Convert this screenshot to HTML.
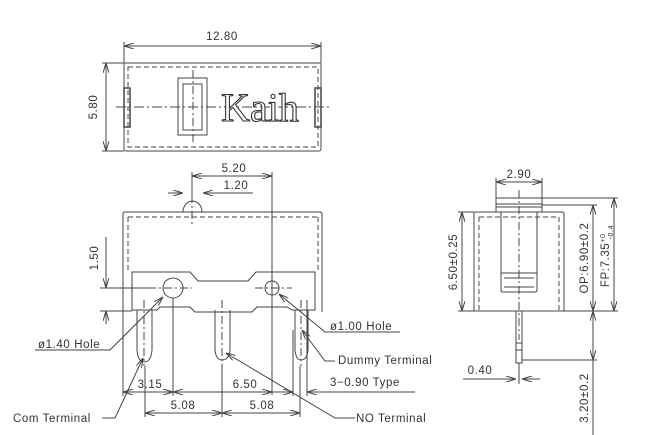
<!DOCTYPE html>
<html><head><style>
html,body{margin:0;padding:0;background:#fff;}
svg{display:block;}
text{font-family:"Liberation Sans",sans-serif;font-size:11.5px;fill:#333;letter-spacing:0.6px;}
</style></head><body>
<svg width="653" height="435" viewBox="0 0 653 435" xmlns="http://www.w3.org/2000/svg">
<defs>
<marker id="a" viewBox="0 0 10 6" refX="10" refY="3" markerWidth="10" markerHeight="6" orient="auto-start-reverse" markerUnits="userSpaceOnUse"><path d="M0,0 L10,3 L0,6" fill="none" stroke="#444" stroke-width="1"/></marker>
</defs>
<g stroke="#444" stroke-width="1" fill="none">
<!-- TOP VIEW -->
<rect x="124" y="63" width="197" height="88" rx="2"/>
<rect x="128" y="67" width="190" height="80" stroke-dasharray="5,3"/>
<line x1="116" y1="107" x2="330" y2="107" stroke-dasharray="10,3,2,3"/>
<rect x="178" y="78" width="29" height="57"/>
<rect x="183" y="84" width="19" height="46"/>
<line x1="193" y1="70" x2="193" y2="143" stroke-dasharray="8,3,2,3"/>
<rect x="124" y="88" width="6" height="39" stroke-width="1.5"/>
<rect x="315" y="88" width="6" height="39" stroke-width="1.5"/>
<!-- 12.80 -->
<line x1="124" y1="42" x2="124" y2="63"/><line x1="321" y1="42" x2="321" y2="63"/>
<line x1="124" y1="46" x2="321" y2="46" marker-start="url(#a)" marker-end="url(#a)"/>
<!-- 5.80 -->
<line x1="102" y1="63" x2="124" y2="63"/><line x1="102" y1="151" x2="124" y2="151"/>
<line x1="106" y1="63" x2="106" y2="151" marker-start="url(#a)" marker-end="url(#a)"/>

<!-- FRONT VIEW -->
<path d="M123,312 L123,214 Q123,212 125,212 L320,212 Q322,212 322,214 L322,312"/>
<line x1="128" y1="217" x2="318" y2="217" stroke-dasharray="5,3"/>
<line x1="128" y1="217" x2="128" y2="272" stroke-dasharray="5,3"/>
<line x1="318" y1="217" x2="318" y2="272" stroke-dasharray="5,3"/>
<path d="M183,212 A9.5,11 0 0 1 202,212"/>
<line x1="192" y1="195" x2="192" y2="226" stroke-dasharray="8,3,2,3"/>
<path d="M132,310 L132,272 L190,272 L198,281 L248,281 L256,272 L315,272 L315,310 L292,310 L287,307 L257,307 L252,312 L195,312 L190,307 L160,307 L157,310 Z" fill="#fff"/>
<circle cx="173" cy="288" r="10"/>
<circle cx="272" cy="288" r="7"/>
<line x1="148" y1="288" x2="192" y2="288" stroke-dasharray="8,3,2,3"/>
<line x1="255" y1="288" x2="292" y2="288" stroke-dasharray="8,3,2,3"/>
<!-- terminals -->
<path d="M137,310 L137,350 Q138,362 144,362 Q151,362 152,350 L152,310"/>
<path d="M215,310 L215,350 Q216,360 222,360 Q229,360 230,350 L230,310"/>
<path d="M295,310 L295,350 Q296,360 301,360 Q307,360 308,350 L308,310"/>
<line x1="144" y1="300" x2="144" y2="366" stroke-dasharray="8,3,2,3"/>
<line x1="222" y1="300" x2="222" y2="366" stroke-dasharray="8,3,2,3"/>
<line x1="301" y1="300" x2="301" y2="366" stroke-dasharray="8,3,2,3"/>
<!-- 5.20 / 1.20 -->
<line x1="192" y1="172" x2="192" y2="196"/>
<line x1="272" y1="172" x2="272" y2="395"/>
<line x1="192" y1="176" x2="272" y2="176" marker-start="url(#a)" marker-end="url(#a)"/>
<line x1="168" y1="193" x2="183" y2="193" marker-end="url(#a)"/>
<line x1="253" y1="193" x2="203" y2="193" marker-end="url(#a)"/>
<!-- 1.50 -->
<line x1="100" y1="288" x2="150" y2="288"/><line x1="100" y1="311" x2="132" y2="311"/>
<line x1="106" y1="237" x2="106" y2="288" marker-end="url(#a)"/>
<line x1="106" y1="324" x2="106" y2="311" marker-end="url(#a)"/>
<!-- extension lines -->
<line x1="123" y1="312" x2="123" y2="396"/>
<line x1="173" y1="298" x2="173" y2="396"/>
<line x1="307" y1="300" x2="307" y2="396"/>
<line x1="293" y1="330" x2="293" y2="396"/>
<line x1="145" y1="366" x2="145" y2="417"/>
<line x1="222" y1="366" x2="222" y2="417"/>
<line x1="300" y1="366" x2="300" y2="417"/>
<!-- row 392 -->
<line x1="123" y1="392" x2="173" y2="392" marker-start="url(#a)" marker-end="url(#a)"/>
<line x1="173" y1="392" x2="272" y2="392" marker-start="url(#a)" marker-end="url(#a)"/>
<line x1="272" y1="392" x2="293" y2="392" marker-end="url(#a)"/>
<line x1="415" y1="392" x2="307" y2="392" marker-end="url(#a)"/>
<!-- row 413 -->
<line x1="145" y1="413" x2="222" y2="413" marker-start="url(#a)" marker-end="url(#a)"/>
<line x1="222" y1="413" x2="300" y2="413" marker-start="url(#a)" marker-end="url(#a)"/>
<!-- leaders -->
<polyline points="35,350 110,350 163,297" marker-end="url(#a)"/>
<polyline points="400,332 325,332 279,294" marker-end="url(#a)"/>
<polyline points="335,361 325,361 302,330" marker-end="url(#a)"/>
<polyline points="102,418 115,418 143,358" marker-end="url(#a)"/>
<polyline points="355,418 335,418 226,353" marker-end="url(#a)"/>

<!-- SIDE VIEW -->
<path d="M474,311 L474,214 Q474,212 476,212 L562,212 Q564,212 564,214 L564,311 Z"/>
<line x1="479" y1="217" x2="559" y2="217" stroke-dasharray="5,3"/>
<line x1="479" y1="217" x2="479" y2="311" stroke-dasharray="5,3"/>
<line x1="559" y1="217" x2="559" y2="311" stroke-dasharray="5,3"/>
<rect x="496" y="198" width="46" height="14" fill="#fff"/>
<line x1="496" y1="204" x2="542" y2="204"/><line x1="496" y1="207" x2="542" y2="207"/>
<path d="M501,212 L501,290 Q501,292 503,292 L535,292 Q537,292 537,290 L537,212"/>
<line x1="501" y1="273" x2="537" y2="273"/>
<line x1="504" y1="278" x2="534" y2="278"/>
<line x1="504" y1="287" x2="534" y2="287"/>
<line x1="519" y1="190" x2="519" y2="340" stroke-dasharray="8,3,2,3"/>
<rect x="516" y="311" width="6" height="52"/>
<line x1="516" y1="343" x2="522" y2="343"/><line x1="516" y1="350" x2="522" y2="350"/>
<line x1="519" y1="363" x2="519" y2="384"/>
<!-- 2.90 -->
<line x1="496" y1="178" x2="496" y2="198"/><line x1="542" y1="178" x2="542" y2="198"/>
<line x1="496" y1="182" x2="542" y2="182" marker-start="url(#a)" marker-end="url(#a)"/>
<!-- 6.50 -->
<line x1="458" y1="212" x2="474" y2="212"/><line x1="458" y1="311" x2="474" y2="311"/>
<line x1="462" y1="212" x2="462" y2="311" marker-start="url(#a)" marker-end="url(#a)"/>
<!-- OP / FP -->
<line x1="542" y1="205" x2="597" y2="205"/>
<line x1="542" y1="198" x2="618" y2="198"/>
<line x1="564" y1="311" x2="618" y2="311"/>
<line x1="593" y1="205" x2="593" y2="311" marker-start="url(#a)" marker-end="url(#a)"/>
<line x1="614" y1="198" x2="614" y2="311" marker-start="url(#a)" marker-end="url(#a)"/>
<!-- 3.20 -->
<line x1="522" y1="360" x2="597" y2="360"/>
<line x1="593" y1="311" x2="593" y2="360" marker-start="url(#a)" marker-end="url(#a)"/>
<line x1="593" y1="360" x2="593" y2="435"/>
<!-- 0.40 -->
<line x1="463" y1="379" x2="516" y2="379" marker-end="url(#a)"/>
<line x1="540" y1="379" x2="522" y2="379" marker-end="url(#a)"/>
</g>

<text x="222" y="40" text-anchor="middle">12.80</text>
<text transform="translate(97,107) rotate(-90)" text-anchor="middle">5.80</text>
<text x="260" y="121" text-anchor="middle" style="font-family:'Liberation Serif',serif;font-size:40px;letter-spacing:0;fill:#fff;stroke:#333;stroke-width:1.1">Kaih</text>
<text x="234" y="172" text-anchor="middle">5.20</text>
<text x="236" y="189" text-anchor="middle">1.20</text>
<text transform="translate(98,258) rotate(-90)" text-anchor="middle">1.50</text>
<text x="38" y="348">ø1.40  Hole</text>
<text x="330" y="330">ø1.00  Hole</text>
<text x="338" y="364">Dummy  Terminal</text>
<text x="330" y="386">3−0.90  Type</text>
<text x="150" y="388" text-anchor="middle">3.15</text>
<text x="245" y="388" text-anchor="middle">6.50</text>
<text x="183" y="409" text-anchor="middle">5.08</text>
<text x="262" y="409" text-anchor="middle">5.08</text>
<text x="13" y="422">Com  Terminal</text>
<text x="356" y="422">NO  Terminal</text>
<text x="519" y="178" text-anchor="middle">2.90</text>
<text transform="translate(457,262) rotate(-90)" text-anchor="middle">6.50±0.25</text>
<text transform="translate(588,258) rotate(-90)" text-anchor="middle">OP:6.90±0.2</text>
<text transform="translate(609,256) rotate(-90)" text-anchor="middle">FP:7.35<tspan font-size="7" dy="-4">+0</tspan><tspan font-size="7" dx="-6" dy="8">-0.4</tspan></text>
<text transform="translate(588,398) rotate(-90)" text-anchor="middle">3.20±0.2</text>
<text x="480" y="374" text-anchor="middle">0.40</text>
</svg>
</body></html>
